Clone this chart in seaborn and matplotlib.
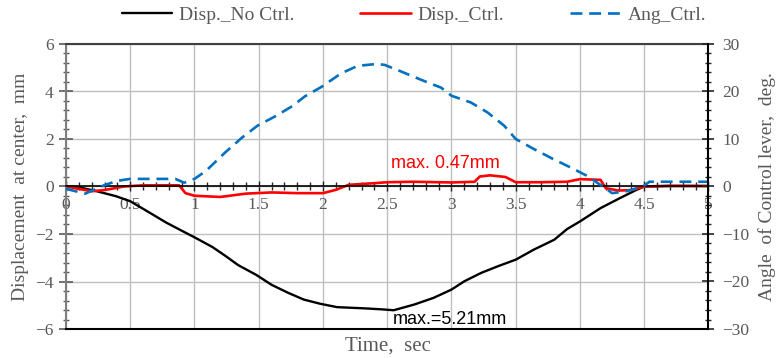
import matplotlib
matplotlib.use("Agg")
import matplotlib.pyplot as plt
import seaborn as sns
from matplotlib.ticker import MultipleLocator, FuncFormatter

# Displacement without control (mm)
black_t = [0, 0.1, 0.24, 0.39, 0.5, 0.65, 0.78, 0.9, 1.0, 1.14, 1.24, 1.34, 1.48, 1.6, 1.73,
           1.85, 1.98, 2.11, 2.32, 2.45, 2.55, 2.71, 2.86, 3.0, 3.1, 3.23, 3.36, 3.5, 3.64,
           3.8, 3.9, 4.0, 4.16, 4.31, 4.44, 4.5, 4.7, 5.0]
black_v = [0, -0.03, -0.2, -0.41, -0.62, -1.1, -1.52, -1.86, -2.14, -2.55, -2.92, -3.31, -3.72,
           -4.14, -4.48, -4.76, -4.94, -5.08, -5.13, -5.17, -5.21, -4.97, -4.69, -4.34, -3.99,
           -3.64, -3.36, -3.08, -2.66, -2.24, -1.79, -1.47, -0.91, -0.49, -0.14, 0.0, 0.02, 0.02]

# Displacement with control (mm)
red_t = [0, 0.1, 0.2, 0.3, 0.45, 0.6, 0.88, 0.93, 1.0, 1.2, 1.4, 1.6, 1.8, 2.0, 2.1, 2.2, 2.4,
         2.5, 2.7, 3.0, 3.18, 3.22, 3.3, 3.42, 3.5, 3.7, 3.9, 4.0, 4.16, 4.2, 4.3, 4.4, 4.5, 4.7, 5.0]
red_v = [0, -0.1, -0.2, -0.15, 0.0, 0.05, 0.05, -0.28, -0.39, -0.44, -0.30, -0.25, -0.28, -0.28,
         -0.14, 0.07, 0.14, 0.18, 0.2, 0.17, 0.2, 0.42, 0.47, 0.4, 0.18, 0.18, 0.2, 0.31, 0.28,
         -0.07, -0.17, -0.15, 0.0, 0.03, 0.02]

# Angle of control lever (deg)
blue_t = [0, 0.15, 0.3, 0.4, 0.5, 0.85, 0.92, 1.0, 1.09, 1.24, 1.37, 1.49, 1.63, 1.76, 1.86,
          1.99, 2.14, 2.27, 2.42, 2.48, 2.6, 2.76, 2.92, 3.0, 3.15, 3.28, 3.41, 3.5, 3.64, 3.79,
          3.95, 4.05, 4.1, 4.2, 4.25, 4.36, 4.49, 4.54, 4.7, 5.0]
blue_v = [-0.5, -1.5, 0.3, 1.2, 1.6, 1.6, 0.8, 1.6, 3.3, 7.2, 10.3, 12.8, 14.8, 16.9, 19.0,
          21.0, 23.8, 25.4, 25.8, 25.6, 24.3, 22.5, 20.8, 19.1, 17.7, 15.6, 12.8, 10.0, 7.9, 5.8,
          3.7, 2.3, 1.4, -0.4, -1.4, -1.0, 0.0, 1.0, 1.0, 1.0]

labels = ["Disp._No Ctrl.", "Disp._Ctrl.", "Ang_Ctrl."]

sns.set_style("white")
plt.rcParams['font.family'] = ['Liberation Serif', 'DejaVu Serif']
gray = '#595959'

fig = plt.figure(figsize=(7.84, 3.58), dpi=100)
ax = fig.add_axes([66 / 784, 1 - 329 / 358, 642.5 / 784, 285 / 358])
ax2 = ax.twinx()

sns.lineplot(x=black_t, y=black_v, ax=ax, color='black', lw=1.7, label=labels[0], legend=False)
sns.lineplot(x=red_t, y=red_v, ax=ax, color='#FF0000', lw=1.9, label=labels[1], legend=False)
sns.lineplot(x=blue_t, y=blue_v, ax=ax2, color='#0070C0', lw=1.9, dashes=False,
             label=labels[2], legend=False)
ax2.lines[0].set_dashes((4.5, 2.6))

ax.set_xlim(0, 5)
ax.set_ylim(-6, 6)
ax2.set_ylim(-30, 30)

ax.xaxis.set_major_locator(MultipleLocator(0.5))
ax.xaxis.set_minor_locator(MultipleLocator(0.1))
ax.yaxis.set_major_locator(MultipleLocator(2))
ax.yaxis.set_minor_locator(MultipleLocator(0.4))
ax2.yaxis.set_major_locator(MultipleLocator(10))
ax2.yaxis.set_minor_locator(MultipleLocator(2))
ax.xaxis.set_major_formatter(FuncFormatter(lambda v, p: '%g' % v))

ax.grid(True, which='major', color='#BFBFBF', lw=1)
ax2.grid(False)
ax.set_axisbelow(True)

# x axis through zero, frame kept by the twin axes
ax.spines['bottom'].set_position(('data', 0))
ax.spines['bottom'].set_color('black')
ax.spines['bottom'].set_linewidth(1.2)
ax.spines['left'].set_color('#7F7F7F')
ax.spines['left'].set_linewidth(1.5)
ax.spines['top'].set_color('#404040')
ax.spines['top'].set_linewidth(1.5)
ax.spines['right'].set_visible(False)
for s in ['right', 'bottom']:
    ax2.spines[s].set_color('black')
    ax2.spines[s].set_linewidth(1.5)
ax2.spines['top'].set_visible(False)
ax2.spines['left'].set_visible(False)

ax.tick_params(axis='x', which='major', direction='inout', length=7, width=1, pad=4,
               labelsize=12.5, labelcolor=gray, bottom=True)
ax.tick_params(axis='x', which='minor', direction='inout', length=6, width=1, bottom=True)
ax.tick_params(axis='y', which='major', direction='inout', length=10, width=1.2, pad=4,
               labelsize=12.5, labelcolor=gray, color='#595959', left=True)
ax.tick_params(axis='y', which='minor', direction='inout', length=5, width=1, color='#595959',
               left=True)
ax2.tick_params(axis='y', which='major', direction='inout', length=8, width=1.2, pad=6,
                labelsize=12.5, labelcolor=gray, right=True)
ax2.tick_params(axis='y', which='minor', direction='inout', length=5, width=1, right=True)

ax.set_ylabel("Displacement  at center,  mm", fontsize=14, color=gray, labelpad=4)
ax2.set_ylabel("Angle  of Control lever,  deg.", fontsize=14, color=gray, labelpad=6)
ax.set_xlabel("")
fig.text(388 / 784, 1 - 346 / 358, "Time,  sec", fontsize=15, color=gray, ha='center', va='center')

ax.text(2.53, 0.97, "max. 0.47mm", color='#FF0000', fontsize=13, family='Liberation Sans',
        ha='left', va='center')
ax.text(2.54, -5.62, "max.=5.21mm", color='black', fontsize=13, family='Liberation Sans',
        ha='left', va='center')

handles = ax.lines[:2] + ax2.lines[:1]
fig.legend(handles, labels, loc='center', bbox_to_anchor=(0.528, 1 - 15 / 358), ncol=3,
           frameon=False, fontsize=14, handlelength=2.6, handletextpad=0.35,
           columnspacing=3.4, labelcolor=gray)

fig.savefig("out.png", dpi=100)
